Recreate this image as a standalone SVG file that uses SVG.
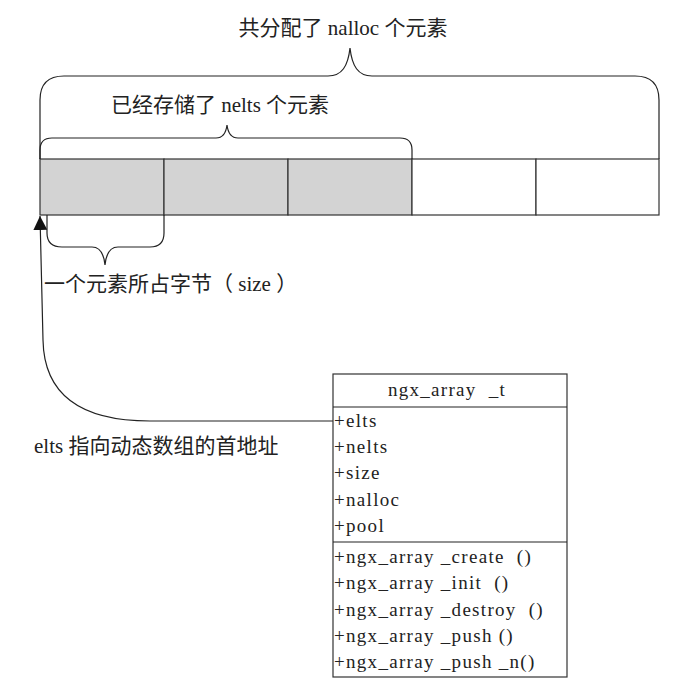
<svg xmlns="http://www.w3.org/2000/svg" width="696" height="687" viewBox="0 0 696 687">
<style>
.ln{fill:none;stroke:#222;stroke-width:1.2}
.cell{stroke:#333;stroke-width:1.2}
.used{fill:#d3d3d3}
.free{fill:#fff}
.lbl{font-family:"Liberation Serif","Noto Sans CJK SC",serif;font-size:21px;fill:#222}
.cls{font-family:"Liberation Serif","Noto Sans CJK SC",serif;font-size:19px;letter-spacing:1.3px;fill:#222}
.box{fill:#fff;stroke:#333;stroke-width:1.2}
</style>
<defs>
<marker id="arr" viewBox="0 0 14 14" refX="14" refY="7" markerWidth="14" markerHeight="14" markerUnits="userSpaceOnUse" orient="auto">
<path d="M0,0 L14,7 L0,14 Z" fill="#111"/>
</marker>
</defs>
<rect width="696" height="687" fill="#fff"/>
<g id="array">
<rect class="cell used" x="40" y="159" width="124" height="56"/>
<rect class="cell used" x="164" y="159" width="124" height="56"/>
<rect class="cell used" x="288" y="159" width="124" height="56"/>
<rect class="cell free" x="412" y="159" width="124" height="56"/>
<rect class="cell free" x="536" y="159" width="123" height="56"/>
</g>
<g id="brace-nalloc">
<path class="ln" d="M40,159 L40,100 Q40,76 64,76 L328,76 C342,76 348,66 350,48 C352,66 358,76 372,76 L635,76 Q659,76 659,100 L659,159"/>
<text class="lbl" x="343" y="35" text-anchor="middle">共分配了 nalloc 个元素</text>
</g>
<g id="brace-nelts">
<path class="ln" d="M40,159 L40,150 Q40,138 52,138 L216,138 C223,138 226,133 227,125 C228,133 231,138 238,138 L400,138 Q412,138 412,150 L412,159"/>
<text class="lbl" x="220" y="112" text-anchor="middle">已经存储了 nelts 个元素</text>
</g>
<g id="brace-size">
<path class="ln" d="M47,215 L47,233 Q47,247 62,247 L92,247 C100,247 104,255 105,265 C106,255 110,247 118,247 L150,247 Q164,247 164,233 L164,215"/>
<text class="lbl" x="44" y="291" xml:space="preserve">一个元素所占字节（ size ）</text>
</g>
<g id="connectors">
<path class="ln" d="M333,421 L150,421 C80,421 44,395 43,340 L40,216" marker-end="url(#arr)"/>
</g>
<text class="lbl" x="34" y="453">elts 指向动态数组的首地址</text>
<g id="ngx_array_t">
<rect class="box" x="333" y="374" width="234" height="303"/>
<line class="ln" x1="333" y1="407" x2="567" y2="407"/>
<line class="ln" x1="333" y1="542" x2="567" y2="542"/>
<text class="cls" x="447" y="396" text-anchor="middle" xml:space="preserve">ngx_array  _t</text>
<text class="cls" x="334" y="427">+elts</text>
<text class="cls" x="334" y="453">+nelts</text>
<text class="cls" x="334" y="479">+size</text>
<text class="cls" x="334" y="506">+nalloc</text>
<text class="cls" x="334" y="532">+pool</text>
<text class="cls" x="334" y="563" xml:space="preserve">+ngx_array _create  ()</text>
<text class="cls" x="334" y="589" xml:space="preserve">+ngx_array _init  ()</text>
<text class="cls" x="334" y="616" xml:space="preserve">+ngx_array _destroy  ()</text>
<text class="cls" x="334" y="642" xml:space="preserve">+ngx_array _push ()</text>
<text class="cls" x="334" y="668" xml:space="preserve">+ngx_array _push _n()</text>
</g>
</svg>
